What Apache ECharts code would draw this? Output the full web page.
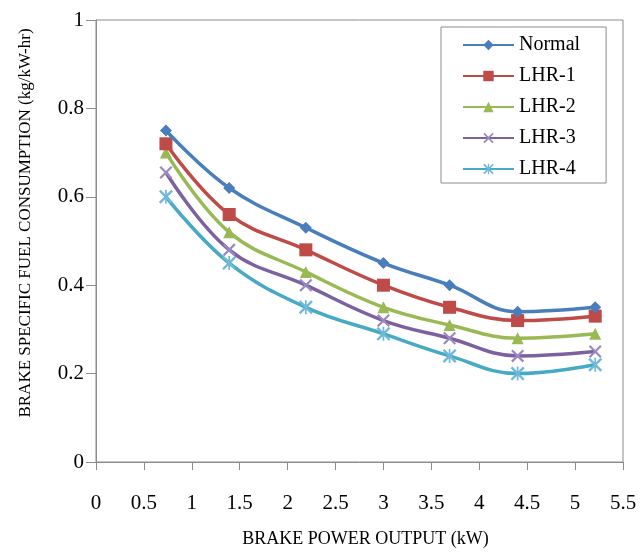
<!DOCTYPE html>
<html>
<head>
<meta charset="utf-8">
<script src="https://cdn.jsdelivr.net/npm/echarts@6/dist/echarts.min.js"></script>
<style>html,body{margin:0;padding:0;background:#fff}#c{width:641px;height:553px}</style>
</head>
<body>
<div id="c"></div>
<script>
const seriesNames = ['Normal', 'LHR-1', 'LHR-2', 'LHR-3', 'LHR-4'];
const powerOutput = [0.73, 1.39, 2.19, 3.0, 3.69, 4.4, 5.21];
const normal = [0.75, 0.62, 0.53, 0.45, 0.40, 0.34, 0.35];
const lhr1   = [0.72, 0.56, 0.48, 0.40, 0.35, 0.32, 0.33];
const lhr2   = [0.70, 0.52, 0.43, 0.35, 0.31, 0.28, 0.29];
const lhr3   = [0.655, 0.48, 0.40, 0.32, 0.28, 0.24, 0.25];
const lhr4   = [0.60, 0.45, 0.35, 0.29, 0.24, 0.20, 0.22];
const values = [normal, lhr1, lhr2, lhr3, lhr4];

const colors = ['#4A7EBB', '#BE4B48', '#98B954', '#7D60A0', '#46AAC5'];
const xPath = 'path://M0,1.2 L1.2,0 L10,8.8 L8.8,10 Z M8.8,0 L10,1.2 L1.2,10 L0,8.8 Z';
const starPath = 'path://M0,1.2 L1.2,0 L10,8.8 L8.8,10 Z M8.8,0 L10,1.2 L1.2,10 L0,8.8 Z M4.4,0 L5.6,0 L5.6,10 L4.4,10 Z';
const symbols = ['diamond', 'rect', 'triangle', xPath, starPath];
const symbolSizes = [12, 13, 12, 13, 14];
const markerColors = ['#4A7EBB', '#BE4B48', '#98B954', '#9a88c0', '#6fb8d8'];

const font = 'Liberation Serif';
const chart = echarts.init(document.getElementById('c'));
chart.setOption({
  backgroundColor: '#fff',
  animation: false,
  textStyle: { fontFamily: font, color: '#000' },
  grid: { left: 96, right: 18, top: 20, bottom: 89, show: true, borderColor: '#8c8c8c', borderWidth: 1, backgroundColor: 'transparent' },
  legend: {
    orient: 'vertical',
    left: 441, top: 27,
    padding: [8, 26, 4, 21],
    borderColor: '#8c8c8c', borderWidth: 1,
    itemWidth: 51, itemHeight: 13, itemGap: 11,
    textStyle: { fontFamily: font, fontSize: 20, color: '#000' },
    data: seriesNames
  },
  xAxis: {
    type: 'value', min: 0, max: 5.5, interval: 0.5,
    name: 'BRAKE POWER OUTPUT (kW)', nameLocation: 'middle', nameGap: 68,
    nameTextStyle: { fontFamily: font, fontSize: 18, color: '#000', padding: [0, 0, 0, 12] },
    axisLine: { onZero: false, lineStyle: { color: '#8c8c8c', width: 1 } },
    axisTick: { show: true, length: 8, inside: false, lineStyle: { color: '#8c8c8c' } },
    axisLabel: { margin: 31, fontFamily: font, fontSize: 21, color: '#000' },
    splitLine: { show: false }
  },
  yAxis: {
    type: 'value', min: 0, max: 1, interval: 0.2,
    name: 'BRAKE SPECIFIC FUEL CONSUMPTION (kg/kW-hr)', nameLocation: 'middle', nameGap: 62,
    nameTextStyle: { fontFamily: font, fontSize: 17, color: '#000', padding: [0, 0, 0, 36] },
    axisLine: { show: true, lineStyle: { color: '#8c8c8c', width: 1 } },
    axisTick: { show: true, length: 10, lineStyle: { color: '#8c8c8c' } },
    axisLabel: { margin: 12, fontFamily: font, fontSize: 21, color: '#000' },
    splitLine: { show: false }
  },
  series: seriesNames.map((name, i) => ({
    name: name,
    type: 'line',
    smooth: 0.4,
    data: powerOutput.map((x, j) => [x, values[i][j]]),
    symbol: symbols[i],
    symbolSize: symbolSizes[i],
    showAllSymbol: true,
    lineStyle: { color: colors[i], width: 3.5 },
    itemStyle: { color: markerColors[i], borderWidth: 0 },
    z: 10 - i
  }))
});
</script>
</body>
</html>
